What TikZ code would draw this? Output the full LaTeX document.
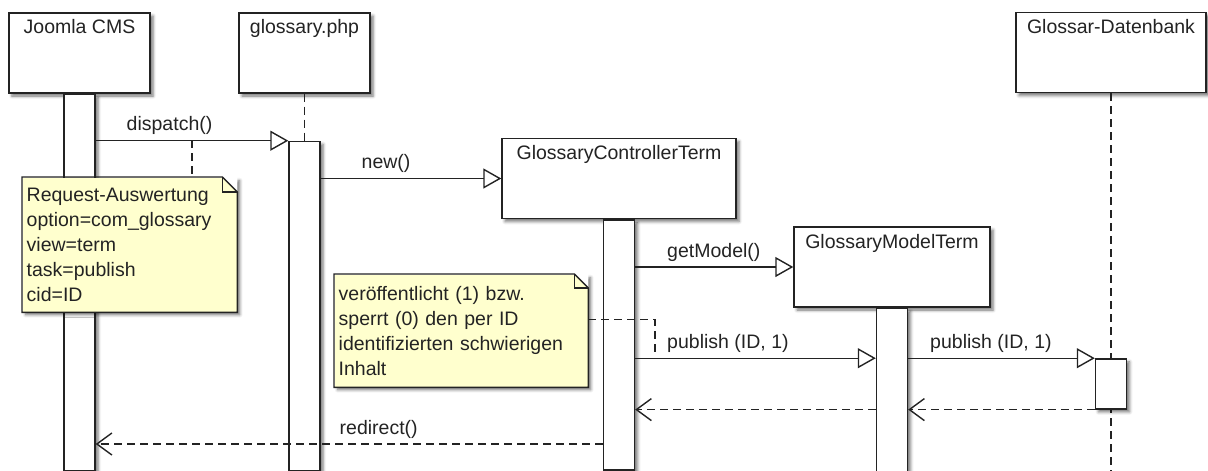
\documentclass[tikz,border=0pt]{standalone}
\usepackage{fontspec}
\setmainfont{Liberation Sans}
\usetikzlibrary{arrows.meta, positioning, shadows.blur}

\definecolor{notefill}{RGB}{255,255,206}
\definecolor{ink}{RGB}{35,35,35}

\begin{document}
\begin{tikzpicture}[x=1pt, y=-1pt, line width=1.4pt, color=ink,
  font=\fontsize{19.5}{25}\selectfont,
  shade/.style={blur shadow={shadow xshift=3pt, shadow yshift=-3pt, shadow blur radius=3pt, shadow opacity=55}},
  obj/.style={draw, fill=white, shade, inner ysep=6pt, text height=15pt, text depth=53pt},
  act/.style={draw, fill=white, shade, inner sep=0pt, minimum width=31pt},
  note/.style={fill=notefill, shade, align=left, inner xsep=4pt, anchor=north west},
  call/.style={-{Triangle[open, length=18pt, width=20pt, fill=white]}},
  life/.style={dash pattern=on 8pt off 5pt},
  ret/.style={life, -{Straight Barb[length=15pt, width=22pt]}},
  msg/.style={anchor=base west, pos=0, yshift=10pt}]
  \useasboundingbox (0,0) rectangle (1208,471);

  % objects
  \node[obj, minimum width=141pt] (joomla) at (79.5,53) {Joomla CMS};
  \node[obj, minimum width=131pt] (gloss) at (304.5,53) {glossary.php};
  \node[obj, minimum width=234pt] (ctrl) at (619,178.5) {GlossaryControllerTerm};
  \node[obj, minimum width=196pt] (model) at (892,267) {GlossaryModelTerm};
  \node[obj, minimum width=190pt] (db) at (1111,52.5) {Glossar-Datenbank};

  \coordinate (dbend) at (1111,471);
  \draw[life] (db) -- (dbend);

  % activations
  \node[act, minimum height=376pt, below=0pt of joomla] (jact) {};
  \node[act, minimum height=329pt, below=47pt of gloss] (gact) {};
  \node[act, minimum height=250pt, below=0pt of ctrl] (cact) {};
  \node[act, minimum height=163pt, below=0pt of model] (mact) {};
  \node[act, minimum height=50pt, below=265pt of db] (dact) {};

  \draw[life] (gloss) -- (gact);

  % messages
  \draw[call] (jact.east |- gact.north) -- (gact.north west)
    node[msg, xshift=27pt] {dispatch()};
  \draw[call] (gact.east |- ctrl.west) -- (ctrl.west)
    node[msg, xshift=37pt] {new()};
  \draw[call] (cact.east |- model.west) -- (model.west)
    node[msg, xshift=28pt] {getModel()};
  \draw[call] (cact.east |- dact.north) -- (mact.west |- dact.north)
    node[msg, xshift=28pt] {publish (ID, 1)};
  \draw[call] (mact.east |- dact.north) -- (dact.north west)
    node[msg, xshift=18pt] {publish (ID, 1)};
  \draw[ret] (dact.south west) -- (mact.east |- dact.south);
  \draw[ret] (mact.west |- dact.south) -- (cact.east |- dact.south);
  \coordinate (redir) at (0,444);
  \draw[ret] (cact.west |- redir) -- (jact.east |- redir)
    node[msg, pos=1, xshift=240pt] {redirect()};

  % notes
  \coordinate (tap) at (192,140);
  \draw[life] (tap) -- (tap |- 0,177);
  \node[note, text width=206pt, minimum height=134pt] (req) at (22,177)
    {Request-Auswertung\\option=com\_glossary\\view=term\\task=publish\\cid=ID};
  \fill[white] ([xshift=-15pt]req.north east) -- (req.north east) -- ([yshift=-15pt]req.north east) -- cycle;
  \draw (req.south west) -- (req.north west) -- ([xshift=-15pt]req.north east)
    -- ([yshift=-15pt]req.north east) -- (req.south east) -- cycle;
  \draw ([xshift=-15pt]req.north east) |- ([yshift=-15pt]req.north east);

  \node[note, text width=245pt, minimum height=112pt] (pub) at (334,274)
    {veröffentlicht (1) bzw.\\sperrt (0) den per ID\\identifizierten schwierigen\\Inhalt};
  \fill[white] ([xshift=-14pt]pub.north east) -- (pub.north east) -- ([yshift=-14pt]pub.north east) -- cycle;
  \draw (pub.south west) -- (pub.north west) -- ([xshift=-14pt]pub.north east)
    -- ([yshift=-14pt]pub.north east) -- (pub.south east) -- cycle;
  \draw ([xshift=-14pt]pub.north east) |- ([yshift=-14pt]pub.north east);
  \coordinate (pubtap) at (655,357);
  \draw[life] ([yshift=11pt]pub.east) -| (pubtap);
\end{tikzpicture}
\end{document}
